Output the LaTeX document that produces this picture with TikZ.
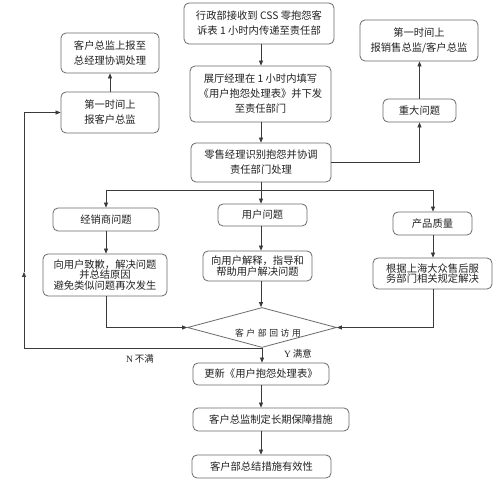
\documentclass[tikz,border=0pt]{standalone}
\usepackage{fontspec}
\setmainfont{Noto Sans CJK SC}
\newfontfamily\latinserif{Liberation Serif}
\usetikzlibrary{shapes.geometric,arrows.meta}
\definecolor{linec}{HTML}{3A3A3A}
\definecolor{boxc}{HTML}{6A6A6A}
\definecolor{txtc}{HTML}{222222}
\tikzset{
  bx/.style={draw=boxc,line width=0.8pt,rounded corners=5pt,inner sep=0pt,align=center,
    text=txtc,font=\fontsize{10.3}{15}\selectfont},
  tight/.style={font=\fontsize{10.3}{10.5}\selectfont},
  arr/.style={draw=linec,line width=0.7pt,-{Triangle[length=5pt,width=4pt]}},
  ln/.style={draw=linec,line width=0.7pt},
  lbl/.style={text=txtc,font=\fontsize{9.5}{11}\selectfont,inner sep=0pt}
}
\begin{document}
\begin{tikzpicture}[x=1pt,y=-1pt]
\useasboundingbox[fill=white] (0,0) rectangle (499,494);
% main column
\node[bx,minimum width=150pt,minimum height=41pt] (top) at (259,23.5) {行政部接收到 CSS 零抱怨客\\诉表 1 小时内传递至责任部};
\node[bx,minimum width=141pt,minimum height=56pt] (zt) at (260.5,94) {展厅经理在 1 小时内填写\\《用户抱怨处理表》并下发\\至责任部门};
\node[bx,minimum width=140pt,minimum height=39pt] (ls) at (261,162.5) {零售经理识别抱怨并协调\\责任部门处理};
% right top
\node[bx,minimum width=73pt,minimum height=23pt] (zd) at (419.5,110.5) {重大问题};
\node[bx,minimum width=118pt,minimum height=41pt] (rt) at (419,40.5) {第一时间上\\报销售总监/客户总监};
% left top
\node[bx,minimum width=98pt,minimum height=40pt] (lt) at (110,53) {客户总监上报至\\总经理协调处理};
\node[bx,minimum width=98pt,minimum height=41pt] (lm) at (110,112.5) {第一时间上\\报客户总监};
% three branches
\node[bx,minimum width=106pt,minimum height=23pt] (jx) at (106,219.5) {经销商问题};
\node[bx,tight,minimum width=124pt,minimum height=42pt] (jx2) at (105,275) {向用户致歉，解决问题\\并总结原因\\避免类似问题再次发生};
\node[bx,minimum width=89pt,minimum height=22pt] (yh) at (262.5,215) {用户问题};
\node[bx,tight,minimum width=109pt,minimum height=30pt] (yh2) at (257.5,266) {向用户解释，指导和\\帮助用户解决问题};
\node[bx,minimum width=79pt,minimum height=23pt] (cp) at (432.5,223.5) {产品质量};
\node[bx,tight,minimum width=119pt,minimum height=31pt] (cp2) at (432.5,273.5) {根据上海大众售后服\\务部门相关规定解决};
% decision
\node[diamond,draw=boxc,line width=0.8pt,minimum width=149pt,minimum height=40pt,aspect=3.725,inner sep=0pt] (dia) at (262,327.5) {};
\node[text=txtc,font=\fontsize{8.8}{10}\selectfont,inner sep=0pt] (diat) at (268,333)
  {客\hspace{2.6pt}户\hspace{2.6pt}部\hspace{2.6pt}回\hspace{2.6pt}访\hspace{2.6pt}用};
% bottom column
\node[bx,minimum width=136pt,minimum height=22pt] (b1) at (261,374) {更新《用户抱怨处理表》};
\node[bx,minimum width=156pt,minimum height=23pt] (b2) at (271,419.5) {客户总监制定长期保障措施};
\node[bx,minimum width=139pt,minimum height=23pt] (b3) at (261.5,466.5) {客户部总结措施有效性};
% helper coordinates
\coordinate (cx) at (261,0);
\coordinate (brL) at (106,190);
\coordinate (brR) at (433,190);
\coordinate (nmid) at (24,272);
% connectors
\draw[arr] (cx |- top.south) -- (cx |- zt.north);
\draw[arr] (cx |- zt.south) -- (cx |- ls.north);
\draw[arr] (ls.east) -| (zd.south);
\draw[arr] (zd.north) -- (zd.north |- rt.south);
\draw[ln] (cx |- ls.south) -- (cx |- brL);
\draw[ln] (brL) -- (brR);
\draw[arr] (brL) -- (jx.north);
\draw[arr] (cx |- brL) -- (cx |- yh.north);
\draw[arr] (brR) -- (brR |- cp.north);
\draw[arr] (jx.south) -- (jx.south |- jx2.north);
\draw[arr] (jx2.south -| jx.south) |- (dia.west);
\draw[arr] (cx |- yh.south) -- (cx |- yh2.north);
\draw[arr] (cx |- yh2.south) -- (cx |- dia.north);
\draw[arr] (brR |- cp.south) -- (brR |- cp2.north);
\draw[arr] (brR |- cp2.south) |- (dia.east);
\draw[arr] (dia.south) -- (dia.south |- b1.north);
\draw[arr] (dia.south) -| (nmid);
\draw[arr] (nmid) |- (lm.west);
\draw[arr] (lm.north) -- (lt.south);
\draw[arr] (cx |- b1.south) -- (cx |- b2.north);
\draw[arr] (cx |- b2.south) -- (cx |- b3.north);
% labels
\node[lbl] (ylab) at (298,354) {{\latinserif Y} 满意};
\node[lbl] (nlab) at (140,359) {{\latinserif N} 不满};
\end{tikzpicture}
\end{document}
